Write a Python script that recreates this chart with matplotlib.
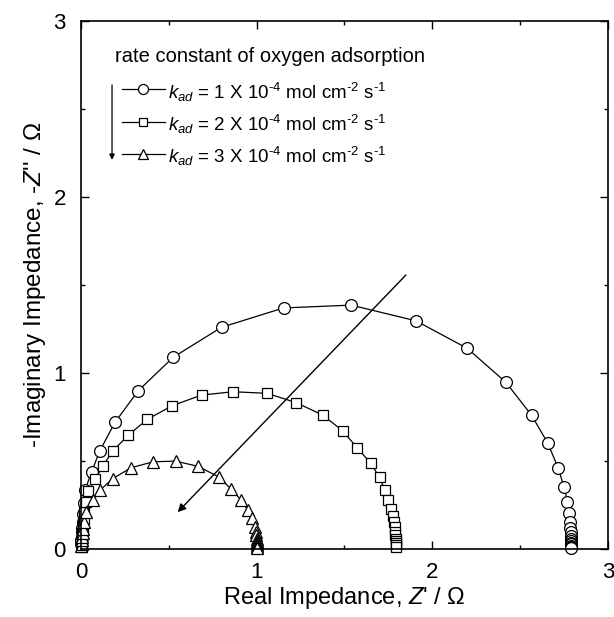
import matplotlib
matplotlib.use("Agg")
import matplotlib.pyplot as plt
from matplotlib.lines import Line2D
from matplotlib.ticker import MultipleLocator

plt.rcParams['font.family'] = ['Liberation Sans', 'DejaVu Sans']
plt.rcParams['mathtext.fontset'] = 'custom'
plt.rcParams['mathtext.rm'] = 'Liberation Sans'
plt.rcParams['mathtext.it'] = 'Liberation Sans:italic'

# ---- data ----
k1_re = [0.001, 0.002, 0.003, 0.005, 0.007, 0.010, 0.013, 0.017, 0.023, 0.060, 0.108, 0.193,
         0.326, 0.525, 0.800, 1.153, 1.538, 1.907, 2.200, 2.420, 2.566, 2.659, 2.718, 2.750,
         2.770, 2.778, 2.783, 2.786, 2.788, 2.790, 2.790, 2.790, 2.790, 2.790, 2.790, 2.790, 2.790]
k1_im = [0.030, 0.050, 0.070, 0.095, 0.120, 0.155, 0.200, 0.260, 0.335, 0.440, 0.560, 0.720,
         0.900, 1.090, 1.260, 1.370, 1.386, 1.297, 1.140, 0.947, 0.760, 0.600, 0.458, 0.354,
         0.270, 0.203, 0.155, 0.120, 0.095, 0.075, 0.058, 0.045, 0.035, 0.027, 0.020, 0.013, 0.007]

k2_re = [0.004, 0.005, 0.005, 0.006, 0.007, 0.008, 0.010, 0.012, 0.015, 0.019, 0.026, 0.042,
         0.080, 0.123, 0.180, 0.270, 0.377, 0.520, 0.686, 0.866, 1.060, 1.225, 1.377, 1.490,
         1.572, 1.650, 1.700, 1.730, 1.750, 1.765, 1.775, 1.780, 1.785, 1.788, 1.790, 1.792,
         1.793, 1.794, 1.795, 1.795]
k2_im = [0.010, 0.025, 0.040, 0.055, 0.070, 0.090, 0.110, 0.140, 0.170, 0.210, 0.270, 0.330,
         0.396, 0.470, 0.557, 0.648, 0.737, 0.815, 0.875, 0.894, 0.885, 0.832, 0.761, 0.672,
         0.576, 0.487, 0.407, 0.335, 0.278, 0.230, 0.190, 0.155, 0.125, 0.100, 0.080, 0.060,
         0.045, 0.033, 0.022, 0.012]

k3_re = [0.002, 0.003, 0.005, 0.007, 0.010, 0.013, 0.018, 0.030, 0.070, 0.108, 0.180, 0.284,
         0.410, 0.538, 0.667, 0.784, 0.856, 0.912, 0.950, 0.975, 0.990, 0.995, 0.998, 1.000,
         1.000, 1.000, 1.000, 1.000, 1.000]
k3_im = [0.015, 0.030, 0.050, 0.070, 0.090, 0.115, 0.155, 0.210, 0.278, 0.335, 0.400, 0.462,
         0.496, 0.500, 0.470, 0.410, 0.340, 0.278, 0.220, 0.174, 0.128, 0.100, 0.080, 0.060,
         0.045, 0.033, 0.022, 0.012, 0.005]

legend_title = "rate constant of oxygen adsorption"
legend_labels = [r"$k_{ad}$ = 1 X 10$^{\text{-4}}$ mol cm$^{\text{-2}}$ s$^{\text{-1}}$",
                 r"$k_{ad}$ = 2 X 10$^{\text{-4}}$ mol cm$^{\text{-2}}$ s$^{\text{-1}}$",
                 r"$k_{ad}$ = 3 X 10$^{\text{-4}}$ mol cm$^{\text{-2}}$ s$^{\text{-1}}$"]
markers = ['o', 's', '^']
msizes = [8.5, 7, 8.5]

fig = plt.figure(figsize=(6.14, 6.17), dpi=100)
ax = fig.add_axes([0.132, 0.110, 0.858, 0.856])

series = [(k1_re, k1_im), (k2_re, k2_im), (k3_re, k3_im)]
for (xr, yi), m, ms in zip(series, markers, msizes):
    ax.plot(xr, yi, color='black', lw=0.9, marker=m, ms=ms, mfc='white',
            mec='black', mew=0.9, clip_on=False)

ax.set_xlim(0, 3)
ax.set_ylim(0, 3)
ax.xaxis.set_major_locator(MultipleLocator(1))
ax.yaxis.set_major_locator(MultipleLocator(1))
ax.xaxis.set_minor_locator(MultipleLocator(0.5))
ax.yaxis.set_minor_locator(MultipleLocator(0.5))
ax.tick_params(which='both', direction='in', top=True, right=True, width=1.0)
ax.tick_params(which='major', length=6, labelsize=16)
ax.tick_params(axis='x', which='major', pad=9)
ax.tick_params(axis='y', which='major', pad=11)
ax.tick_params(which='minor', length=3)
for s in ax.spines.values():
    s.set_linewidth(1.2)

ax.set_xlabel("Real Impedance, $Z$' / Ω", fontsize=17, labelpad=2)
ax.set_ylabel("-Imaginary Impedance, -$Z$'' / Ω", fontsize=17.5, labelpad=4)

# arrow through the arcs
ax.annotate("", xy=(0.55, 0.21), xytext=(1.85, 1.557),
            arrowprops=dict(arrowstyle='-|>', lw=1.0, color='black', mutation_scale=12,
                            shrinkA=0, shrinkB=0))

# manual legend (axes fraction)
T = ax.transAxes
ax.text(0.0645, 0.932, legend_title, transform=T, fontsize=14.5, va='center', ha='left')
line_ys = [0.8703, 0.809, 0.749]
text_ys = [0.8655, 0.804, 0.744]
for yl, yt, lab, m, ms in zip(line_ys, text_ys, legend_labels, markers, msizes):
    ax.add_line(Line2D([0.0778, 0.1594], [yl, yl], transform=T, color='black', lw=0.9))
    ax.add_line(Line2D([0.118], [yl], transform=T, marker=m, ms=ms * 0.85, mfc='white',
                       mec='black', mew=0.9, color='black'))
    ax.text(0.1651, yt, lab, transform=T, fontsize=13.5, va='center', ha='left')
ax.annotate("", xy=(0.0588, 0.737), xytext=(0.0588, 0.879), xycoords=T, textcoords=T,
            arrowprops=dict(arrowstyle='-|>', lw=0.9, color='black', mutation_scale=8,
                            shrinkA=0, shrinkB=0))

fig.savefig("out.png", dpi=100)
